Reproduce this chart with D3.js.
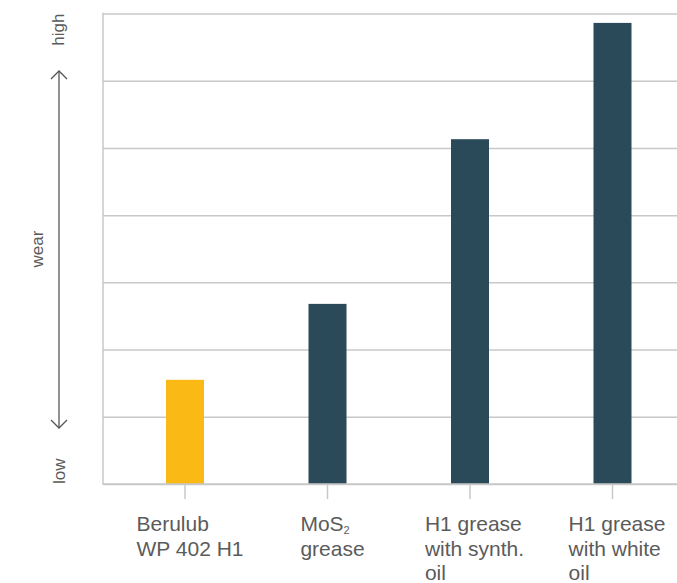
<!DOCTYPE html>
<html>
<head>
<meta charset="utf-8">
<style>
body { margin: 0; background: #fff; }
text { font-family: "Liberation Sans", Arial, sans-serif; fill: #5b5b5b; }
.grid line { stroke: #c8c8c8; stroke-width: 1.5; }
.grid path { display: none; }
</style>
<script src="https://d3js.org/d3.v7.min.js"></script>
</head>
<body>
<script>
var w = 677;
var h = 583;

// data (wear, arbitrary units: one unit per gridline)
var categories = ["Berulub WP 402 H1", "MoS2 grease", "H1 grease synth", "H1 grease white"];
var wear = [1.55, 2.68, 5.13, 6.86];
var barColors = ["#fbb916", "#2a4a5a", "#2a4a5a", "#2a4a5a"];
var labelLines = [
    ["Berulub", "WP 402 H1"],
    ["MoS|2", "grease"],
    ["H1 grease", "with synth.", "oil"],
    ["H1 grease", "with white", "oil"]
];
var yTicks = d3.range(0, 8);

var mLeft = 103, mTop = 13.5, mBottom = 484, mRight = 690;

var svg = d3.select("body")
        .append("svg")
        .attr("width", w)
        .attr("height", h);

var xScale = d3.scalePoint()
        .domain(categories)
        .range([185, 612.5]);

var yScale = d3.scaleLinear()
        .domain([0, 7])
        .range([mBottom, mTop]);

// gridlines
svg.append("g")
   .attr("class", "grid")
   .attr("transform", "translate(" + mLeft + ",0)")
   .call(d3.axisLeft(yScale).tickValues(yTicks).tickSize(-(mRight - mLeft)).tickFormat(""));

// left axis line
svg.append("line")
   .attr("x1", mLeft).attr("x2", mLeft)
   .attr("y1", mTop - 0.75).attr("y2", mBottom + 0.75)
   .attr("stroke", "#c8c8c8").attr("stroke-width", 1.5);

// bars
var barW = 38;
svg.selectAll("rect.bar")
   .data(wear)
   .enter()
   .append("rect")
   .attr("class", "bar")
   .attr("x", function(d, i){ return xScale(categories[i]) - barW / 2; })
   .attr("y", function(d){ return yScale(d); })
   .attr("width", barW)
   .attr("height", function(d){ return mBottom - yScale(d); })
   .attr("fill", function(d, i){ return barColors[i]; });

// bottom line over bars
svg.append("line")
   .attr("x1", mLeft).attr("x2", mRight)
   .attr("y1", mBottom).attr("y2", mBottom)
   .attr("stroke", "#c8c8c8").attr("stroke-width", 1.5);

// ticks under categories
svg.selectAll("line.tick")
   .data(categories)
   .enter()
   .append("line")
   .attr("class", "tick")
   .attr("x1", function(d){ return xScale(d); })
   .attr("x2", function(d){ return xScale(d); })
   .attr("y1", mBottom).attr("y2", mBottom + 15)
   .attr("stroke", "#c8c8c8").attr("stroke-width", 1.5);

// category labels: left-aligned block, roughly centred on the tick
var labels = svg.selectAll("g.cat")
   .data(labelLines)
   .enter()
   .append("g")
   .attr("class", "cat");

labels.each(function(lines, i){
    var g = d3.select(this);
    lines.forEach(function(line, j){
        var t = g.append("text")
                 .attr("x", 0)
                 .attr("y", j * 24.5)
                 .style("font-size", "21px");
        if (line.indexOf("|") >= 0) {
            var parts = line.split("|");
            t.append("tspan").text(parts[0]);
            t.append("tspan").text(parts[1])
             .style("font-size", "11px")
             .attr("dy", 3);
        } else {
            t.text(line);
        }
    });
    var bb = this.getBBox();
    var x0 = xScale(categories[i]) - bb.width / 2 + 5;
    g.attr("transform", "translate(" + x0 + ",531)");
});

// wear arrow
var arrowX = 59;
svg.append("line")
   .attr("x1", arrowX).attr("x2", arrowX)
   .attr("y1", 71).attr("y2", 428)
   .attr("stroke", "#555").attr("stroke-width", 1.3);
svg.append("path")
   .attr("d", "M" + (arrowX - 8) + ",79L" + arrowX + ",71L" + (arrowX + 8) + ",79")
   .attr("fill", "none").attr("stroke", "#555").attr("stroke-width", 1.3);
svg.append("path")
   .attr("d", "M" + (arrowX - 8) + ",420L" + arrowX + ",428L" + (arrowX + 8) + ",420")
   .attr("fill", "none").attr("stroke", "#555").attr("stroke-width", 1.3);

// rotated axis words
svg.append("text")
   .attr("transform", "translate(64," + mTop + ") rotate(-90)")
   .attr("text-anchor", "end")
   .style("font-size", "17px")
   .text("high");
svg.append("text")
   .attr("transform", "translate(43,249) rotate(-90)")
   .attr("text-anchor", "middle")
   .style("font-size", "17px")
   .text("wear");
svg.append("text")
   .attr("transform", "translate(65," + mBottom + ") rotate(-90)")
   .attr("text-anchor", "start")
   .style("font-size", "17px")
   .text("low");
</script>
</body>
</html>
